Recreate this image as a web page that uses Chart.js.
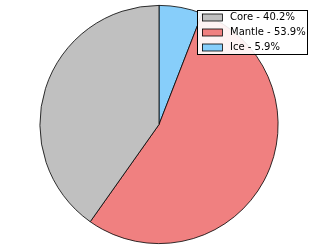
<!DOCTYPE html>
<html>
<head>
<meta charset="utf-8">
<script src="https://cdn.jsdelivr.net/npm/chart.js@4/dist/chart.umd.min.js"></script>
<style>
  html, body { margin: 0; padding: 0; background: #fff; }
  #wrap { width: 318px; height: 249px; }
</style>
</head>
<body>
<div id="wrap"><canvas id="pie" width="318" height="249"></canvas></div>
<script>
// layer names, percentages and colours (legend order)
var layers = ['Core', 'Mantle', 'Ice'];
var percents = [40.2, 53.9, 5.9];
var colors = ['#c0c0c0', '#f08080', '#87cefa'];

// chart.js goes clockwise from the top, the original goes the other way
var dataLabels = layers.slice().reverse();
var dataValues = percents.slice().reverse();
var dataColors = colors.slice().reverse();

// box legend in the top right corner
var boxLegend = {
    id: 'boxLegend',
    afterDraw: function(chart) {
        var ctx = chart.ctx;
        var x = 197, y = 10, w = 111, h = 45;
        ctx.save();
        ctx.fillStyle = 'rgba(255,255,255,0.9)';
        ctx.fillRect(x, y, w, h);
        ctx.strokeStyle = '#000';
        ctx.lineWidth = 1;
        ctx.strokeRect(x + 0.5, y + 0.5, w - 1, h - 1);
        ctx.font = '10px "DejaVu Sans"';
        ctx.textBaseline = 'middle';
        for (var i = 0; i < layers.length; i++) {
            var cy = 17.5 + i * 15;
            ctx.fillStyle = colors[i];
            ctx.fillRect(202, cy - 3.5, 20, 7);
            ctx.strokeStyle = '#000';
            ctx.lineWidth = 0.8;
            ctx.strokeRect(202.5, cy - 3.5, 20, 7);
            ctx.fillStyle = '#000';
            ctx.fillText(layers[i] + ' - ' + percents[i].toFixed(1) + '%', 230, cy);
        }
        ctx.restore();
    }
};

var ctx = document.getElementById('pie').getContext('2d');
var chart = new Chart(ctx, {
    type: 'pie',
    data: {
        labels: dataLabels,
        datasets: [{
            data: dataValues,
            backgroundColor: dataColors,
            borderColor: '#000',
            borderWidth: 0.8,
            borderAlign: 'center'
        }]
    },
    options: {
        responsive: false,
        animation: false,
        layout: { padding: { top: 5, bottom: 5, left: 0, right: 0 } },
        plugins: {
            legend: { display: false },
            tooltip: { enabled: false }
        }
    },
    plugins: [boxLegend]
});
</script>
</body>
</html>
